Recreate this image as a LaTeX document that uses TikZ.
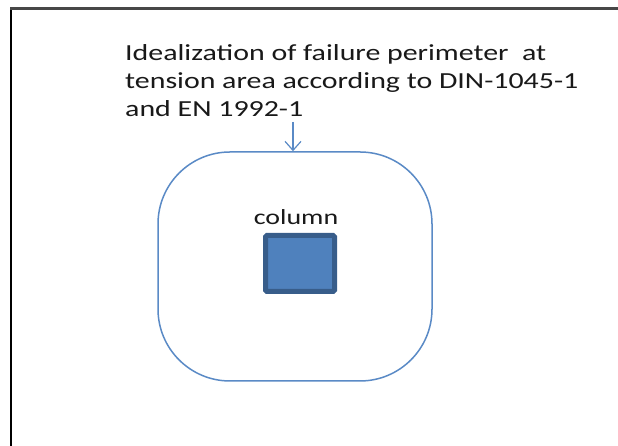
\documentclass[tikz,border=0pt]{standalone}
\usepackage{fontspec}
\setmainfont{Carlito}[FakeStretch=1.3]
\usetikzlibrary{arrows.meta}
\definecolor{perimblue}{HTML}{5A8AC6}
\definecolor{colfill}{HTML}{4F81BD}
\definecolor{coldraw}{HTML}{385D8A}
\tikzset{
	perimbox/.style={shape=rectangle,draw=perimblue,line width=1.5pt,rounded corners=72pt,minimum width=274pt,minimum height=229pt},
	colbox/.style={shape=rectangle,draw=coldraw,fill=colfill,line width=5pt,rounded corners=1.5pt,minimum width=69pt,minimum height=56pt}
}

\begin{document}
\begin{tikzpicture}[x=1pt,y=1pt]
	\useasboundingbox[fill=white] (0,0) rectangle (618,446);
	% frame
	\draw[line width=2pt,black] (11,0) -- (11,437.5);
	\draw[line width=3pt,black!72] (10,437.5) -- (618,437.5);
	\node[anchor=north west,inner sep=0pt,align=left,font=\fontsize{23}{28}\selectfont,text=black!90] (label) at (125,402) {Idealization of failure perimeter\ \ at\\tension area according to DIN-1045-1\\and EN 1992-1};
	\node[perimbox] (perimeter) at (295,179.5) {};
	\node[colbox] (column) at (300,182.5) {};
	\node[anchor=base,inner sep=0pt,font=\fontsize{21.5}{21.5}\selectfont,text=black!90] (collabel) at (296,221) {column};
	\coordinate (tail) at (293,324);
	\draw [-{Straight Barb[length=9pt,width=16pt]},perimblue,line width=1.2pt] (tail) -- (tail |- perimeter.north);
\end{tikzpicture}
\end{document}
